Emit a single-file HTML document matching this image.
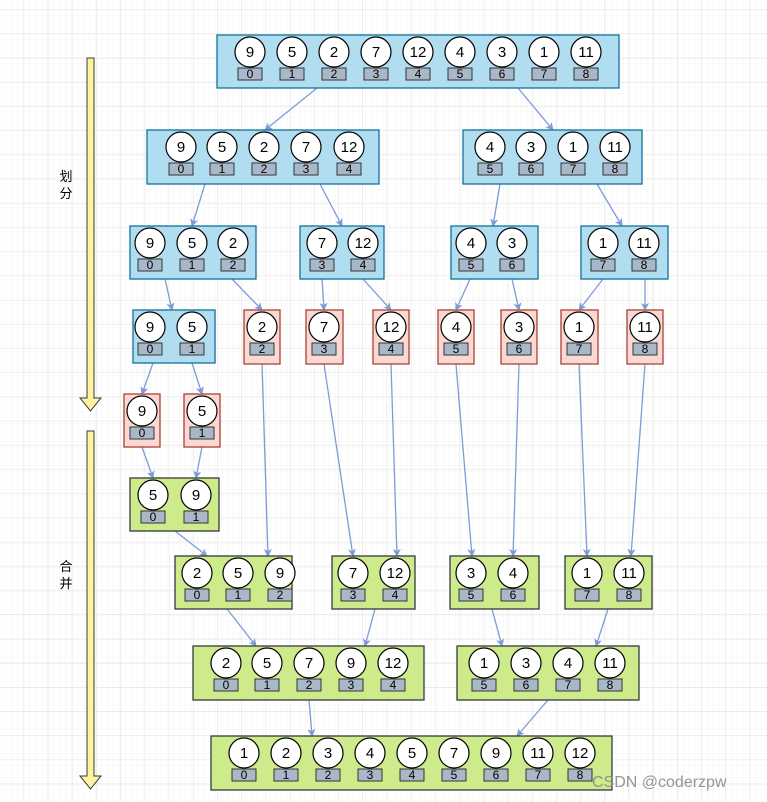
<!DOCTYPE html>
<html><head><meta charset="utf-8"><style>
html,body{margin:0;padding:0;background:#fff}
svg{display:block}
text{font-family:"Liberation Sans",sans-serif;text-anchor:middle}
.v{font-size:15px}
.i{font-size:12px}
.b{fill:#b1ddf0;stroke:#10739e;stroke-width:1.3}
.r{fill:#fad9d5;stroke:#ae4132;stroke-width:1.3}
.g{fill:#cdeb8b;stroke:#36393d;stroke-width:1.3}
.e path{stroke:#7d9bd8;stroke-width:1.3;fill:none;marker-end:url(#ah)}
</style></head><body>
<svg width="767" height="802" viewBox="0 0 767 802" xmlns="http://www.w3.org/2000/svg">
<defs>
<pattern id="gm" width="6" height="6" patternUnits="userSpaceOnUse" x="0" y="10"><path d="M6 0V6M0 6H6" stroke="#f4f4f4" stroke-width="1" fill="none"/></pattern>
<pattern id="gM" width="24.2" height="24.2" patternUnits="userSpaceOnUse" x="0" y="10"><path d="M24.2 0V24.2M0 24.2H24.2" stroke="#e3e3e3" stroke-width="1.2" fill="none"/></pattern>
<marker id="ah" markerWidth="8" markerHeight="8" refX="7" refY="4" orient="auto" markerUnits="userSpaceOnUse"><path d="M0 0L8 4L0 8L2 4Z" fill="#7d9bd8"/></marker>
<g id="it"><circle r="15" fill="#fff" stroke="#000" stroke-width="1.2"/><rect x="-12" y="16" width="24" height="12" fill="#a9b8c8" stroke="#333" stroke-width="1"/></g>
</defs>
<rect width="767" height="802" fill="url(#gm)"/>
<rect width="767" height="802" fill="url(#gM)"/>

<path d="M87 58H94V398H101L90.5 411L80 398H87Z" fill="#fff2a0" stroke="#3a3a3a" stroke-width="1"/>
<path d="M87 431H94V776H101L90.5 789L80 776H87Z" fill="#fff2a0" stroke="#3a3a3a" stroke-width="1"/>
<text x="66" y="181" style="font-family:'Noto Sans CJK SC',sans-serif;font-size:13px">划</text>
<text x="66" y="198" style="font-family:'Noto Sans CJK SC',sans-serif;font-size:13px">分</text>
<text x="66" y="571" style="font-family:'Noto Sans CJK SC',sans-serif;font-size:13px">合</text>
<text x="66" y="588" style="font-family:'Noto Sans CJK SC',sans-serif;font-size:13px">并</text>

<g class="e">
<path d="M317 88L265 130"/><path d="M518 88L553 130"/>
<path d="M205 184L192 226"/><path d="M320 184L342 226"/><path d="M500 184L493 226"/><path d="M597 184L622 226"/>
<path d="M165 279L172 310"/><path d="M232 279L262 310"/><path d="M322 279L324 310"/><path d="M363 279L391 310"/><path d="M470 279L456 310"/><path d="M512 279L519 310"/><path d="M603 279L579 310"/><path d="M645 279L645 310"/>
<path d="M153 363L142 394"/><path d="M192 363L202 394"/><path d="M142 447L153 478"/><path d="M202 447L196 478"/>
<path d="M175 531L207 556"/><path d="M262 364L268 556"/><path d="M324 364L353 556"/><path d="M391 364L397 556"/><path d="M456 364L472 556"/><path d="M519 364L513 556"/><path d="M579 364L587 556"/><path d="M645 364L631 556"/>
<path d="M227 609L256 646"/><path d="M375 609L365 646"/><path d="M492 609L502 646"/><path d="M608 609L596 646"/><path d="M309 700L312 736"/><path d="M548 700L517 736"/>
</g>

<rect class="b" x="217" y="35" width="402" height="53"/>
<g transform="translate(250,52)"><use href="#it"/><text class="v" y="5">9</text><text class="i" y="26">0</text></g>
<g transform="translate(292,52)"><use href="#it"/><text class="v" y="5">5</text><text class="i" y="26">1</text></g>
<g transform="translate(334,52)"><use href="#it"/><text class="v" y="5">2</text><text class="i" y="26">2</text></g>
<g transform="translate(376,52)"><use href="#it"/><text class="v" y="5">7</text><text class="i" y="26">3</text></g>
<g transform="translate(418,52)"><use href="#it"/><text class="v" y="5">12</text><text class="i" y="26">4</text></g>
<g transform="translate(460,52)"><use href="#it"/><text class="v" y="5">4</text><text class="i" y="26">5</text></g>
<g transform="translate(502,52)"><use href="#it"/><text class="v" y="5">3</text><text class="i" y="26">6</text></g>
<g transform="translate(544,52)"><use href="#it"/><text class="v" y="5">1</text><text class="i" y="26">7</text></g>
<g transform="translate(586,52)"><use href="#it"/><text class="v" y="5">11</text><text class="i" y="26">8</text></g>

<rect class="b" x="147" y="130" width="232" height="54"/>
<g transform="translate(181,147)"><use href="#it"/><text class="v" y="5">9</text><text class="i" y="26">0</text></g>
<g transform="translate(222,147)"><use href="#it"/><text class="v" y="5">5</text><text class="i" y="26">1</text></g>
<g transform="translate(264,147)"><use href="#it"/><text class="v" y="5">2</text><text class="i" y="26">2</text></g>
<g transform="translate(306,147)"><use href="#it"/><text class="v" y="5">7</text><text class="i" y="26">3</text></g>
<g transform="translate(349,147)"><use href="#it"/><text class="v" y="5">12</text><text class="i" y="26">4</text></g>
<rect class="b" x="463" y="130" width="179" height="54"/>
<g transform="translate(490,147)"><use href="#it"/><text class="v" y="5">4</text><text class="i" y="26">5</text></g>
<g transform="translate(531,147)"><use href="#it"/><text class="v" y="5">3</text><text class="i" y="26">6</text></g>
<g transform="translate(573,147)"><use href="#it"/><text class="v" y="5">1</text><text class="i" y="26">7</text></g>
<g transform="translate(615,147)"><use href="#it"/><text class="v" y="5">11</text><text class="i" y="26">8</text></g>

<rect class="b" x="130" y="226" width="126" height="53"/>
<g transform="translate(150,243)"><use href="#it"/><text class="v" y="5">9</text><text class="i" y="26">0</text></g>
<g transform="translate(192,243)"><use href="#it"/><text class="v" y="5">5</text><text class="i" y="26">1</text></g>
<g transform="translate(233,243)"><use href="#it"/><text class="v" y="5">2</text><text class="i" y="26">2</text></g>
<rect class="b" x="300" y="226" width="84" height="53"/>
<g transform="translate(322,243)"><use href="#it"/><text class="v" y="5">7</text><text class="i" y="26">3</text></g>
<g transform="translate(363,243)"><use href="#it"/><text class="v" y="5">12</text><text class="i" y="26">4</text></g>
<rect class="b" x="451" y="226" width="87" height="53"/>
<g transform="translate(471,243)"><use href="#it"/><text class="v" y="5">4</text><text class="i" y="26">5</text></g>
<g transform="translate(512,243)"><use href="#it"/><text class="v" y="5">3</text><text class="i" y="26">6</text></g>
<rect class="b" x="581" y="226" width="87" height="53"/>
<g transform="translate(603,243)"><use href="#it"/><text class="v" y="5">1</text><text class="i" y="26">7</text></g>
<g transform="translate(644,243)"><use href="#it"/><text class="v" y="5">11</text><text class="i" y="26">8</text></g>

<rect class="b" x="133" y="310" width="82" height="53"/>
<g transform="translate(150,327)"><use href="#it"/><text class="v" y="5">9</text><text class="i" y="26">0</text></g>
<g transform="translate(192,327)"><use href="#it"/><text class="v" y="5">5</text><text class="i" y="26">1</text></g>
<rect class="r" x="244" y="310" width="36" height="54"/>
<g transform="translate(262,327)"><use href="#it"/><text class="v" y="5">2</text><text class="i" y="26">2</text></g>
<rect class="r" x="306" y="310" width="37" height="54"/>
<g transform="translate(324,327)"><use href="#it"/><text class="v" y="5">7</text><text class="i" y="26">3</text></g>
<rect class="r" x="373" y="310" width="36" height="54"/>
<g transform="translate(391,327)"><use href="#it"/><text class="v" y="5">12</text><text class="i" y="26">4</text></g>
<rect class="r" x="438" y="310" width="36" height="54"/>
<g transform="translate(456,327)"><use href="#it"/><text class="v" y="5">4</text><text class="i" y="26">5</text></g>
<rect class="r" x="501" y="310" width="36" height="54"/>
<g transform="translate(519,327)"><use href="#it"/><text class="v" y="5">3</text><text class="i" y="26">6</text></g>
<rect class="r" x="561" y="310" width="37" height="54"/>
<g transform="translate(579,327)"><use href="#it"/><text class="v" y="5">1</text><text class="i" y="26">7</text></g>
<rect class="r" x="627" y="310" width="36" height="54"/>
<g transform="translate(645,327)"><use href="#it"/><text class="v" y="5">11</text><text class="i" y="26">8</text></g>

<rect class="r" x="124" y="394" width="36" height="53"/>
<g transform="translate(142,411)"><use href="#it"/><text class="v" y="5">9</text><text class="i" y="26">0</text></g>
<rect class="r" x="184" y="394" width="36" height="53"/>
<g transform="translate(202,411)"><use href="#it"/><text class="v" y="5">5</text><text class="i" y="26">1</text></g>

<rect class="g" x="130" y="478" width="89" height="53"/>
<g transform="translate(153,495)"><use href="#it"/><text class="v" y="5">5</text><text class="i" y="26">0</text></g>
<g transform="translate(196,495)"><use href="#it"/><text class="v" y="5">9</text><text class="i" y="26">1</text></g>

<rect class="g" x="175" y="556" width="117" height="53"/>
<g transform="translate(197,573)"><use href="#it"/><text class="v" y="5">2</text><text class="i" y="26">0</text></g>
<g transform="translate(238,573)"><use href="#it"/><text class="v" y="5">5</text><text class="i" y="26">1</text></g>
<g transform="translate(280,573)"><use href="#it"/><text class="v" y="5">9</text><text class="i" y="26">2</text></g>
<rect class="g" x="332" y="556" width="83" height="53"/>
<g transform="translate(353,573)"><use href="#it"/><text class="v" y="5">7</text><text class="i" y="26">3</text></g>
<g transform="translate(395,573)"><use href="#it"/><text class="v" y="5">12</text><text class="i" y="26">4</text></g>
<rect class="g" x="450" y="556" width="89" height="53"/>
<g transform="translate(471,573)"><use href="#it"/><text class="v" y="5">3</text><text class="i" y="26">5</text></g>
<g transform="translate(513,573)"><use href="#it"/><text class="v" y="5">4</text><text class="i" y="26">6</text></g>
<rect class="g" x="565" y="556" width="87" height="53"/>
<g transform="translate(587,573)"><use href="#it"/><text class="v" y="5">1</text><text class="i" y="26">7</text></g>
<g transform="translate(629,573)"><use href="#it"/><text class="v" y="5">11</text><text class="i" y="26">8</text></g>

<rect class="g" x="193" y="646" width="231" height="54"/>
<g transform="translate(226,663)"><use href="#it"/><text class="v" y="5">2</text><text class="i" y="26">0</text></g>
<g transform="translate(267,663)"><use href="#it"/><text class="v" y="5">5</text><text class="i" y="26">1</text></g>
<g transform="translate(309,663)"><use href="#it"/><text class="v" y="5">7</text><text class="i" y="26">2</text></g>
<g transform="translate(351,663)"><use href="#it"/><text class="v" y="5">9</text><text class="i" y="26">3</text></g>
<g transform="translate(393,663)"><use href="#it"/><text class="v" y="5">12</text><text class="i" y="26">4</text></g>
<rect class="g" x="457" y="646" width="182" height="54"/>
<g transform="translate(484,663)"><use href="#it"/><text class="v" y="5">1</text><text class="i" y="26">5</text></g>
<g transform="translate(526,663)"><use href="#it"/><text class="v" y="5">3</text><text class="i" y="26">6</text></g>
<g transform="translate(568,663)"><use href="#it"/><text class="v" y="5">4</text><text class="i" y="26">7</text></g>
<g transform="translate(610,663)"><use href="#it"/><text class="v" y="5">11</text><text class="i" y="26">8</text></g>

<rect class="g" x="211" y="736" width="401" height="54"/>
<g transform="translate(244,753)"><use href="#it"/><text class="v" y="5">1</text><text class="i" y="26">0</text></g>
<g transform="translate(286,753)"><use href="#it"/><text class="v" y="5">2</text><text class="i" y="26">1</text></g>
<g transform="translate(328,753)"><use href="#it"/><text class="v" y="5">3</text><text class="i" y="26">2</text></g>
<g transform="translate(370,753)"><use href="#it"/><text class="v" y="5">4</text><text class="i" y="26">3</text></g>
<g transform="translate(412,753)"><use href="#it"/><text class="v" y="5">5</text><text class="i" y="26">4</text></g>
<g transform="translate(454,753)"><use href="#it"/><text class="v" y="5">7</text><text class="i" y="26">5</text></g>
<g transform="translate(496,753)"><use href="#it"/><text class="v" y="5">9</text><text class="i" y="26">6</text></g>
<g transform="translate(538,753)"><use href="#it"/><text class="v" y="5">11</text><text class="i" y="26">7</text></g>
<g transform="translate(580,753)"><use href="#it"/><text class="v" y="5">12</text><text class="i" y="26">8</text></g>

<text x="592" y="787" style="text-anchor:start;font-size:16px;fill:#8a8a8a;opacity:0.9">CSDN @coderzpw</text>
</svg>
</body></html>
